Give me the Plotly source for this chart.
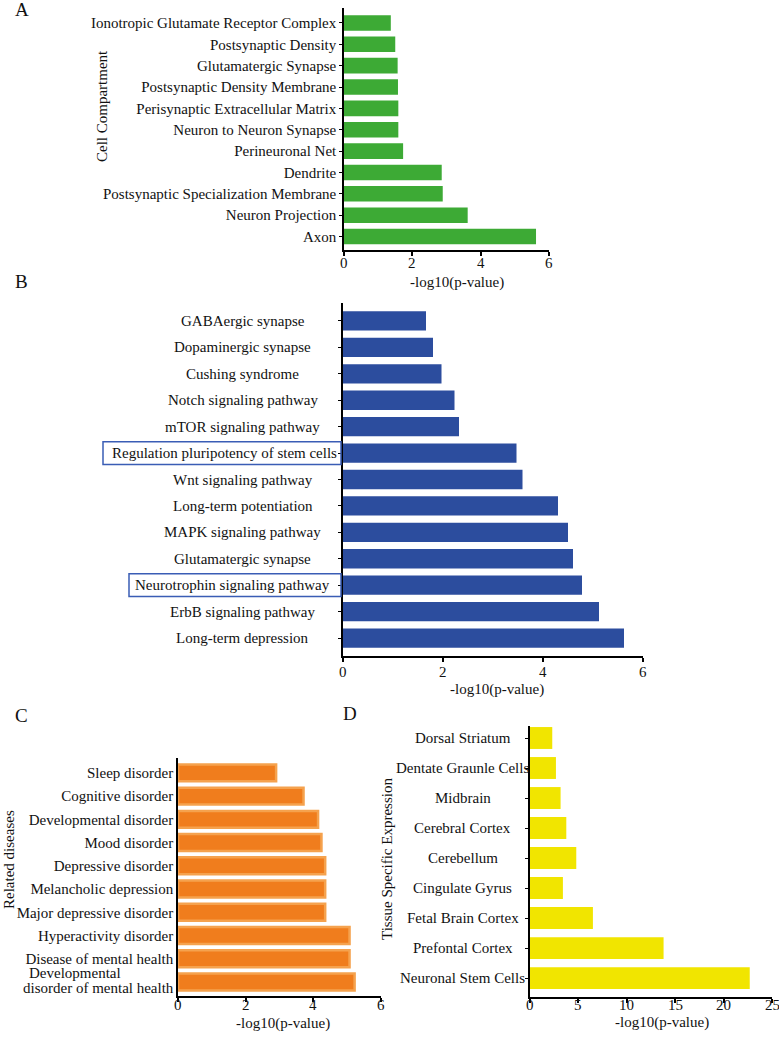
import plotly.graph_objects as go

W, H = 779, 1038

# ---------------- data (top-to-bottom order as drawn) ----------------
a_labels = ["Ionotropic Glutamate Receptor Complex", "Postsynaptic Density", "Glutamatergic Synapse",
            "Postsynaptic Density Membrane", "Perisynaptic Extracellular Matrix", "Neuron to Neuron Synapse",
            "Perineuronal Net", "Dendrite", "Postsynaptic Specialization Membrane", "Neuron Projection", "Axon"]
a_values = [1.37, 1.50, 1.57, 1.58, 1.59, 1.59, 1.73, 2.86, 2.89, 3.62, 5.62]

b_labels = ["GABAergic synapse", "Dopaminergic synapse", "Cushing syndrome", "Notch signaling pathway",
            "mTOR signaling pathway", "Regulation pluripotency of stem cells", "Wnt signaling pathway",
            "Long-term potentiation", "MAPK signaling pathway", "Glutamatergic synapse",
            "Neurotrophin signaling pathway", "ErbB signaling pathway", "Long-term depression"]
b_values = [1.66, 1.80, 1.97, 2.23, 2.32, 3.47, 3.59, 4.30, 4.50, 4.60, 4.78, 5.12, 5.62]
b_boxed = ["Regulation pluripotency of stem cells", "Neurotrophin signaling pathway"]

c_labels = ["Sleep disorder", "Cognitive disorder", "Developmental disorder", "Mood disorder",
            "Depressive disorder", "Melancholic depression", "Major depressive disorder",
            "Hyperactivity disorder", "Disease of mental health", "Developmental disorder of mental health"]
c_values = [2.90, 3.71, 4.14, 4.24, 4.35, 4.35, 4.35, 5.07, 5.07, 5.22]

d_labels = ["Dorsal Striatum", "Dentate Graunle Cells", "Midbrain", "Cerebral Cortex", "Cerebellum",
            "Cingulate Gyrus", "Fetal Brain Cortex", "Prefontal Cortex", "Neuronal Stem Cells"]
d_values = [2.3, 2.68, 3.16, 3.75, 4.78, 3.4, 6.5, 13.8, 22.7]

x_ticks_small = [0, 2, 4, 6]
x_ticks_d = [0, 5, 10, 15, 20, 25]
x_title = "-log10(p-value)"

GREEN = "#3DAA35"
BLUE = "#2C4D9E"
ORANGE = "#F07D1D"
ORANGE_EDGE = "#F5A24E"
YELLOW = "#F1E500"
BOX = "#3A5DB5"
FONT = "Liberation Serif"
TXT = "#111111"


def xp(px):
    return px / W


def yp(py):
    return 1 - py / H


fig = go.Figure()

fig.add_trace(go.Bar(x=a_values, y=a_labels, orientation="h", marker=dict(color=GREEN, line=dict(width=0)),
                     xaxis="x", yaxis="y", showlegend=False))
fig.add_trace(go.Bar(x=b_values, y=b_labels, orientation="h", marker=dict(color=BLUE, line=dict(width=0)),
                     xaxis="x2", yaxis="y2", showlegend=False))
fig.add_trace(go.Bar(x=c_values, y=c_labels, orientation="h",
                     marker=dict(color=ORANGE, line=dict(color=ORANGE_EDGE, width=2.5)),
                     xaxis="x3", yaxis="y3", showlegend=False))
fig.add_trace(go.Bar(x=d_values, y=d_labels, orientation="h", marker=dict(color=YELLOW, line=dict(width=0)),
                     xaxis="x4", yaxis="y4", showlegend=False))

axis_common = dict(showline=True, linecolor="black", linewidth=1.5, showgrid=False, zeroline=False,
                   tickfont=dict(family=FONT, size=15, color=TXT), tickcolor="black")

# x axes (tick numbers are written below as annotations at the axis values)
fig.update_layout(
    xaxis=dict(domain=[xp(344), xp(549)], range=[0, 6], tickvals=x_ticks_small, ticks="outside", ticklen=4,
               tickwidth=1.5, showticklabels=False, anchor="y", **axis_common),
    xaxis2=dict(domain=[xp(343), xp(643)], range=[0, 6], tickvals=x_ticks_small, ticks="outside", ticklen=4,
                tickwidth=1.5, showticklabels=False, anchor="y2", **axis_common),
    xaxis3=dict(domain=[xp(178), xp(381)], range=[0, 6], tickvals=x_ticks_small, ticks="outside", ticklen=4,
                tickwidth=1.5, showticklabels=False, anchor="y3", **axis_common),
    xaxis4=dict(domain=[xp(530), xp(772)], range=[0, 25], tickvals=x_ticks_d, ticks="outside", ticklen=4,
                tickwidth=1.5, showticklabels=False, anchor="y4", **axis_common),
)

c_ticktext = [("" if l == "Developmental disorder of mental health" else l) for l in reversed(c_labels)]

fig.update_layout(
    yaxis=dict(domain=[yp(250), yp(8)], type="category", categoryorder="array",
               categoryarray=list(reversed(a_labels)), range=[-0.63, 10.7], ticks="outside", ticklen=3,
               anchor="x", **axis_common),
    yaxis2=dict(domain=[yp(656), yp(303)], type="category", categoryorder="array",
                categoryarray=list(reversed(b_labels)), range=[-0.68, 12.68], ticks="outside", ticklen=3,
                showticklabels=False, anchor="x2", **axis_common),
    yaxis3=dict(domain=[yp(996), yp(758)], type="category", categoryorder="array",
                categoryarray=list(reversed(c_labels)), range=[-0.6, 9.64], ticks="",
                tickmode="array", tickvals=list(reversed(c_labels)), ticktext=c_ticktext,
                anchor="x3", **axis_common),
    yaxis4=dict(domain=[yp(997), yp(726)], type="category", categoryorder="array",
                categoryarray=list(reversed(d_labels)), range=[-0.63, 8.4], ticks="outside", ticklen=3,
                showticklabels=False, anchor="x4", **axis_common),
)

ann = []
shapes = []


def text(x, y, s, size=15, xanchor="center", yanchor="middle", xref="paper", yref="paper", angle=0, align="center"):
    ann.append(dict(x=x, y=y, text=s, showarrow=False, xref=xref, yref=yref, xanchor=xanchor, yanchor=yanchor,
                    textangle=angle, align=align, font=dict(family=FONT, size=size, color=TXT)))


# x tick numbers
for t in x_ticks_small:
    text(t, yp(263), str(t), xref="x")
    text(t, yp(672), str(t), xref="x2")
    text(t, yp(1005), str(t), xref="x3")
for t in x_ticks_d:
    text(t, yp(1005), str(t), xref="x4")

# panel letters
text(xp(22), yp(10), "A", size=19)
text(xp(21), yp(281), "B", size=19)
text(xp(21), yp(715), "C", size=19)
text(xp(350), yp(713), "D", size=19)

# axis titles
text(xp(457), yp(283), x_title)
text(xp(497), yp(689), x_title)
text(xp(283), yp(1023), x_title)
text(xp(662), yp(1022), x_title)
text(xp(102), yp(106), "Cell Compartment", angle=-90)
text(xp(9), yp(860), "Related diseases", angle=-90)
text(xp(387), yp(859), "Tissue Specific Expression", angle=-90)

# panel B labels (centred column) and boxes
b_order = list(reversed(b_labels))
for lab in b_labels:
    if lab == b_boxed[0]:
        cx = 224
    elif lab == b_boxed[1]:
        cx = 233
    else:
        cx = 243
    text(xp(cx), lab, lab, yref="y2")
box_left = {b_boxed[0]: 103, b_boxed[1]: 129}
for lab in b_boxed:
    idx = b_order.index(lab)
    shapes.append(dict(type="rect", xref="paper", yref="y2", x0=xp(box_left[lab]), x1=xp(341),
                       y0=idx - 0.43, y1=idx + 0.43, line=dict(color=BOX, width=1.5)))

# panel C two-line label
text(xp(27), 0.38, "Developmental", xanchor="left", yref="y3")
text(xp(176), -0.27, "disorder of mental health", xanchor="right", yref="y3")

# panel D labels (centred column)
for lab in d_labels:
    text(xp(463), lab, lab, yref="y4")

fig.update_layout(
    width=W, height=H, margin=dict(l=0, r=0, t=0, b=0), paper_bgcolor="white", plot_bgcolor="white",
    bargap=0.27, annotations=ann, shapes=shapes, font=dict(family=FONT, color=TXT),
)

fig.write_html("out.html")
